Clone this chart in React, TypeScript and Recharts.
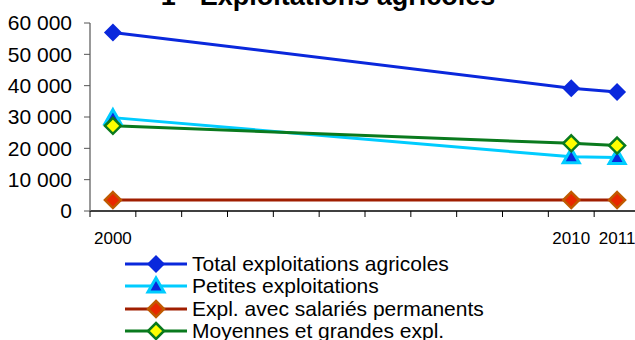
import React from "react";
import { LineChart, Line, XAxis, YAxis, Legend } from "recharts";

const years = [2000, 2010, 2011];
const totalExpl = [57000, 39200, 38000];
const petitesExpl = [29800, 17300, 17100];
const salariesExpl = [3500, 3500, 3500];
const moyennesExpl = [27200, 21600, 20900];

const yTicks = [0, 10000, 20000, 30000, 40000, 50000, 60000];
const minorTicks = [1999.5, 2000.5, 2001.5, 2002.5, 2003.5, 2004.5, 2005.5, 2006.5, 2007.5, 2008.5, 2009.5, 2010.5, 2011.5];
const yearLabels = [2000, 2010, 2011];

const FONT = "'Liberation Sans', Arial, sans-serif";

const data = years.map((y, i) => ({
  year: y,
  total: totalExpl[i],
  petites: petitesExpl[i],
  salaries: salariesExpl[i],
  moyennes: moyennesExpl[i],
}));

type MarkerKind = "diamond" | "triangle";

interface SeriesDef {
  key: string;
  name: string;
  line: string;
  fill: string;
  stroke: string;
  marker: MarkerKind;
}

const series: SeriesDef[] = [
  { key: "total", name: "Total exploitations agricoles", line: "#0a28dc", fill: "#0a28dc", stroke: "#0a28dc", marker: "diamond" },
  { key: "petites", name: "Petites exploitations", line: "#00ccff", fill: "#0a28dc", stroke: "#00ccff", marker: "triangle" },
  { key: "salaries", name: "Expl. avec salariés permanents", line: "#a01e00", fill: "#e82800", stroke: "#c05a00", marker: "diamond" },
  { key: "moyennes", name: "Moyennes et grandes expl.", line: "#0a7a1e", fill: "#ffff00", stroke: "#0a7a1e", marker: "diamond" },
];

function markerShape(s: SeriesDef, cx: number, cy: number, key?: string) {
  if (s.marker === "triangle") {
    return (
      <polygon
        key={key}
        points={`${cx},${cy - 8} ${cx + 8},${cy + 6} ${cx - 8},${cy + 6}`}
        fill={s.fill}
        stroke={s.stroke}
        strokeWidth={3}
        strokeLinejoin="miter"
      />
    );
  }
  const r = s.fill === s.stroke ? 9 : 8;
  return (
    <polygon
      key={key}
      points={`${cx},${cy - r} ${cx + r},${cy} ${cx},${cy + r} ${cx - r},${cy}`}
      fill={s.fill}
      stroke={s.stroke}
      strokeWidth={s.fill === s.stroke ? 0 : 2.5}
    />
  );
}

const formatThousands = (v: number) => String(v).replace(/\B(?=(\d{3})+(?!\d))/g, " ");

const XTick = (props: any) => {
  const { x, y, payload } = props;
  const v = payload.value as number;
  if (yearLabels.includes(v)) {
    return (
      <text x={x} y={y + 33} textAnchor="middle" fontSize={17} fontFamily={FONT} fill="#000">
        {v}
      </text>
    );
  }
  return <line x1={x} y1={y} x2={x} y2={y + 6} stroke="#000" strokeWidth={1} />;
};

const LegendContent = () => (
  <div style={{ fontFamily: FONT, fontSize: 21, color: "#000" }}>
    {series.map((s) => (
      <div key={s.key} style={{ display: "flex", alignItems: "center", height: 22.3, lineHeight: "22px" }}>
        <svg width={67} height={22} style={{ display: "block" }}>
          <line x1={0} y1={11} x2={62} y2={11} stroke={s.line} strokeWidth={3} />
          {markerShape(s, 31, 11)}
        </svg>
        <span style={{ whiteSpace: "nowrap" }}>{s.name}</span>
      </div>
    ))}
  </div>
);

export default function App() {
  return (
    <div style={{ position: "fixed", left: 0, top: 0, width: 635, height: 340, overflow: "hidden", background: "#fff" }}>
      <div
        style={{
          position: "absolute",
          left: 0,
          width: 656,
          top: -19,
          textAlign: "center",
          fontFamily: FONT,
          fontWeight: "bold",
          fontSize: 27,
          lineHeight: "30px",
          whiteSpace: "nowrap",
        }}
      >
        1 - Exploitations agricoles
      </div>
      <LineChart width={640} height={340} data={data} margin={{ top: 23, right: 0, bottom: 89, left: 0 }}>
        <XAxis
          dataKey="year"
          type="number"
          domain={[1999.5, 2011.5]}
          ticks={[...minorTicks, ...yearLabels].sort((a, b) => a - b)}
          interval={0}
          tick={<XTick />}
          tickLine={false}
          tickSize={0}
          tickMargin={0}
          height={40}
          axisLine={{ stroke: "#000", strokeWidth: 1.5 }}
        />
        <YAxis
          type="number"
          domain={[0, 60000]}
          ticks={yTicks}
          interval={0}
          width={90}
          tickSize={6}
          tickMargin={12}
          tickFormatter={formatThousands}
          tick={{ fontSize: 21, fontFamily: FONT, fill: "#000" }}
          tickLine={{ stroke: "#555" }}
          axisLine={{ stroke: "#777", strokeWidth: 1.5 }}
        />
        <Legend
          layout="vertical"
          align="center"
          verticalAlign="middle"
          content={<LegendContent />}
          wrapperStyle={{ position: "absolute", top: 253, left: 125, width: 420, height: 90 }}
        />
        {series.map((s) => (
          <Line
            key={s.key}
            type="linear"
            dataKey={s.key}
            name={s.name}
            stroke={s.line}
            strokeWidth={3}
            isAnimationActive={false}
            dot={(p: any) => markerShape(s, p.cx, p.cy, `${s.key}-${p.index}`)}
            activeDot={false}
          />
        ))}
      </LineChart>
    </div>
  );
}
